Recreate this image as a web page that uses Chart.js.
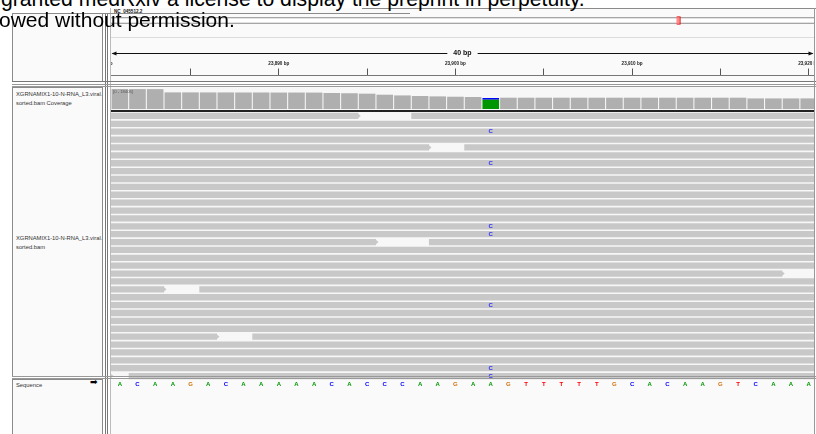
<!DOCTYPE html>
<html>
<head>
<meta charset="utf-8">
<script src="https://cdn.jsdelivr.net/npm/chart.js@4.4.1/dist/chart.umd.min.js"></script>
<style>
  html, body { margin: 0; padding: 0; background: #fff; }
  body { width: 816px; height: 434px; overflow: hidden; position: relative; font-family: "Liberation Sans", Arial, sans-serif; }
  .ln { position: absolute; }
  .namebox { position: absolute; left: 12px; width: 89px; background: #fafafa; border: 1px solid #8a8a8a; overflow: hidden; }
  .nm { position: absolute; left: 3px; font-size: 5.8px; color: #333; white-space: nowrap; line-height: 7px; }
  #data { position: absolute; left: 111px; top: 0; width: 703px; height: 434px; overflow: hidden; }
  #data canvas, #data div { position: absolute; }
  .wm { position: absolute; font-size: 21px; line-height: 21px; color: #000; white-space: nowrap; }
</style>
</head>
<body>
<!-- name panels -->
<div class="namebox" style="top:13px;height:67px;"></div>
<div class="namebox" style="top:87px;height:288px;">
  <div class="nm" style="top:3px;">XGRNAMIX1-10-N-RNA_L3.viral.0</div>
  <div class="nm" style="top:12px;">sorted.bam Coverage</div>
  <div class="nm" style="top:147px;">XGRNAMIX1-10-N-RNA_L3.viral.0</div>
  <div class="nm" style="top:156px;">sorted.bam</div>
</div>
<div class="namebox" style="top:379px;height:70px;">
  <div class="nm" style="top:2px;">Sequence</div>
  <div class="nm" style="top:-1px;left:77px;font-size:9px;font-family:'DejaVu Sans';color:#000;">➡</div>
</div>

<!-- splitter between names and data -->
<div class="ln" style="left:105px;top:13px;width:1px;height:430px;background:#777;"></div>
<div class="ln" style="left:107px;top:13px;width:1px;height:430px;background:#777;"></div>
<div class="ln" style="left:110px;top:8px;width:1px;height:430px;background:#bbb;"></div>

<!-- data side -->
<div id="data">
  <div style="left:0;top:8px;width:703px;height:73px;background:#fafafa;"></div>
  <div style="left:0;top:37px;width:703px;height:1px;background:#dcdcdc;"></div>
  <div style="left:0;top:87px;width:703px;height:289px;background:#f7f7f7;"></div>
  <div style="left:0;top:379px;width:703px;height:60px;background:#fafafa;"></div>
  <canvas id="ideogram" width="708" height="13" style="left:0;top:14px;"></canvas>
  <canvas id="ruler" width="800" height="80" style="left:-53px;top:38px;"></canvas>
  <canvas id="coverage" width="703" height="20" style="left:0;top:89px;"></canvas>
  <div style="left:0;top:110px;width:703px;height:2px;background:#222;"></div>
  <canvas id="reads" width="703" height="268" style="left:0;top:112px;"></canvas>
  <canvas id="sequence" width="703" height="10" style="left:0;top:379px;"></canvas>
  <div id="chrom" style="left:3px;top:9px;font-size:4.6px;font-weight:bold;color:#111;"></div>
  <div id="range" style="left:2px;top:89px;font-size:4.2px;color:#555;"></div>
</div>

<!-- frame lines -->
<div class="ln" style="left:362px;top:8px;width:454px;height:1px;background:#8a8a8a;"></div>
<div class="ln" style="left:12px;top:13px;width:398px;height:1px;background:#8a8a8a;"></div>
<div class="ln" style="left:12px;top:81px;width:804px;height:1px;background:#777;"></div>
<div class="ln" style="left:12px;top:84px;width:804px;height:1px;background:#999;"></div>
<div class="ln" style="left:12px;top:86px;width:804px;height:1px;background:#999;"></div>
<div class="ln" style="left:12px;top:376px;width:804px;height:1px;background:#999;"></div>
<div class="ln" style="left:12px;top:378px;width:804px;height:1px;background:#999;"></div>
<div class="ln" style="left:814px;top:8px;width:1px;height:430px;background:#999;"></div>

<!-- preprint notice overlaying the figure -->
<div class="wm" style="left:1px;top:-12px;font-size:21.2px;">granted medRxiv a license to display the preprint in perpetuity.</div>
<div class="wm" style="left:-1px;top:9px;">owed without permission.</div>

<script>
// genome / view
const chromName = "NC_045512.2";
const genomeLength = 29903;
const viewStart = 23880.5;
const viewEnd = 23920.3;
const firstBase = 23881;

// reference sequence shown in the Sequence track
const refBases = ["A","C","A","A","G","A","C","A","A","A","A","A","C","A","C","C","C","A","A","G",
                  "A","A","G","T","T","T","T","T","G","C","A","C","A","A","G","T","C","A","A","A"];

const covMax = 18405;
const coverage = [18405, 18350, 18300, 15300, 15300, 15250, 15250, 15200, 15200, 15150,
                  15150, 15100, 14700, 14500, 14100, 13150, 12500, 11950, 11600, 11300,
                  11050, 10100, 10400, 10400, 10400, 10400, 10400, 10400, 10400, 10400,
                  10400, 10400, 10400, 10400, 10400, 10400, 9750, 9750, 9750, 9750];

// mismatch column: ref A, alt C
const mismatchPos = 23902;
const alleleA = 8550;
const alleleC = 1550;
const mismatchRows = [2, 6, 14, 15, 24, 32, 33];

// reads: first/last base, two lanes per row (null = no read)
const read1Start = [23796, 23812, 23779, 23860, 23801, 23835, 23790, 23848, 23822, 23857,
                    23806, 23869, 23818, 23841, 23797, 23853, 23778, 23864, 23829, 23810,
                    23770, 23845, 23785, 23872, 23808, 23826, 23866, 23815, 23738, 23851,
                    23793, 23877, 23833, 23882];
const read1End   = [23894, 23936, 23928, 23959, 23898, 23934, 23939, 23947, 23971, 23956,
                    23925, 23968, 23967, 23940, 23946, 23952, 23895, 23963, 23978, 23959,
                    23918, 23944, 23883, 23971, 23957, 23925, 23965, 23964, 23886, 23950,
                    23942, 23976, 23932, 23981];
const read2Start = [23898, null, null, null, 23901, null, null, null, null, null,
                    null, null, null, null, null, null, 23899, null, null, null,
                    null, null, 23886, null, null, null, null, null, 23889, null,
                    null, null, null, null];
const read2End   = [24003, null, null, null, 24012, null, null, null, null, null,
                    null, null, null, null, null, null, 24048, null, null, null,
                    null, null, 24035, null, null, null, null, null, 23988, null,
                    null, null, null, null];
const rowLabels = read1Start.map((_, i) => "row " + i);

const baseColors = { A: "#009600", C: "#0000ff", G: "#d17105", T: "#ff0000" };
const readColor = "#c8c8c8";

const viewPx = 703;
const pxPerBp = viewPx / (viewEnd - viewStart);

document.getElementById("chrom").textContent = chromName;
document.getElementById("range").textContent = "[0 - " + covMax + "]";

Chart.defaults.font.family = '"Liberation Sans", Arial, sans-serif';

function baseOptions(xMin, xMax) {
  return {
    responsive: false,
    animation: false,
    events: [],
    layout: { padding: 0 },
    plugins: { legend: { display: false }, tooltip: { enabled: false } },
    scales: {
      x: { type: "linear", min: xMin, max: xMax, display: false, offset: false },
      y: { display: false },
    },
  };
}

// draws text items at data positions through the chart's scales
function letterPlugin(items, font) {
  return {
    id: "letters",
    afterDatasetsDraw(chart) {
      const ctx = chart.ctx;
      const xs = chart.scales.x;
      const ys = chart.scales.y;
      ctx.save();
      ctx.font = font;
      ctx.textAlign = "center";
      ctx.textBaseline = "middle";
      items.forEach((it) => {
        ctx.fillStyle = it.color;
        ctx.fillText(it.text, xs.getPixelForValue(it.x), ys.getPixelForValue(it.y));
      });
      ctx.restore();
    },
  };
}

// forward-strand arrow tip at the right end of each read bar
const strandPlugin = {
  id: "strand",
  beforeDatasetsDraw(chart) {
    const ctx = chart.ctx;
    ctx.save();
    ctx.fillStyle = readColor;
    chart.data.datasets.forEach((ds, di) => {
      chart.getDatasetMeta(di).data.forEach((bar) => {
        if (!bar || isNaN(bar.x) || bar.x > chart.chartArea.right - 2) return;
        const h = bar.height / 2;
        ctx.beginPath();
        ctx.moveTo(bar.x - 1, bar.y - h);
        ctx.lineTo(bar.x + 2.5, bar.y);
        ctx.lineTo(bar.x - 1, bar.y + h);
        ctx.closePath();
        ctx.fill();
      });
    });
    ctx.restore();
  },
};

// ideogram
const ideoOpts = baseOptions(0, genomeLength);
ideoOpts.indexAxis = "y";
ideoOpts.scales.y = { type: "category", display: false };
new Chart(document.getElementById("ideogram"), {
  type: "bar",
  data: {
    labels: [chromName],
    datasets: [
      { data: [[firstBase, firstBase + refBases.length - 1]], backgroundColor: "#ff8a8a", borderColor: "#e00000",
        borderWidth: 1, barThickness: 8, minBarLength: 4, grouped: false },
      { data: [[1, genomeLength]], backgroundColor: "#ffffff", borderColor: "#666",
        borderWidth: 1, barThickness: 6, grouped: false },
    ],
  },
  options: ideoOpts,
});

// ruler
const rulerMin = viewStart - 53 / pxPerBp;
const rulerMax = rulerMin + 800 / pxPerBp;
const rulerOpts = baseOptions(rulerMin, rulerMax);
rulerOpts.layout.padding = { top: 21, bottom: 0 };
rulerOpts.scales.x = {
  type: "linear",
  position: "top",
  min: rulerMin,
  max: rulerMax,
  grid: { drawOnChartArea: false, drawTicks: true, tickLength: 7, color: "#555" },
  border: { display: true, color: "#777" },
  ticks: {
    stepSize: 5,
    includeBounds: false,
    autoSkip: false,
    maxRotation: 0,
    padding: 2,
    color: "#222",
    font: { size: 4.6, weight: "bold" },
    callback: (v) => (v % 10 === 0 ? v.toLocaleString("en-US") + " bp" : ""),
  },
};
const spanPlugin = {
  id: "span",
  afterDraw(chart) {
    const ctx = chart.ctx;
    const xs = chart.scales.x;
    const x0 = xs.getPixelForValue(viewStart) + 1.5;
    const x1 = xs.getPixelForValue(viewEnd) - 1.5;
    const y = Math.round(chart.chartArea.top - 23) + 0.5;
    const label = Math.round(viewEnd - viewStart) + " bp";
    ctx.save();
    ctx.font = 'bold 7px "Liberation Sans", Arial';
    const tw = ctx.measureText(label).width;
    const cx = (x0 + x1) / 2;
    ctx.strokeStyle = "#111";
    ctx.fillStyle = "#111";
    ctx.lineWidth = 1;
    ctx.beginPath();
    ctx.moveTo(x0, y); ctx.lineTo(cx - tw / 2 - 6, y);
    ctx.moveTo(cx + tw / 2 + 6, y); ctx.lineTo(x1, y);
    ctx.stroke();
    ctx.beginPath();
    ctx.moveTo(x0 - 1, y); ctx.lineTo(x0 + 4, y - 2); ctx.lineTo(x0 + 4, y + 2); ctx.closePath();
    ctx.moveTo(x1 + 1, y); ctx.lineTo(x1 - 4, y - 2); ctx.lineTo(x1 - 4, y + 2); ctx.closePath();
    ctx.fill();
    ctx.textAlign = "center";
    ctx.textBaseline = "middle";
    ctx.fillText(label, cx, y);
    ctx.restore();
  },
};
new Chart(document.getElementById("ruler"), {
  type: "scatter",
  data: { datasets: [{ data: [] }] },
  options: rulerOpts,
  plugins: [spanPlugin],
});

// coverage
const covOpts = baseOptions(viewStart, viewEnd);
covOpts.scales.x.stacked = true;
covOpts.scales.x.grid = { offset: false };
covOpts.scales.y = { display: false, min: 0, max: covMax, stacked: true };
covOpts.datasets = { bar: { barPercentage: 0.94, categoryPercentage: 1 } };
new Chart(document.getElementById("coverage"), {
  type: "bar",
  data: {
    datasets: [
      { data: [{ x: mismatchPos, y: alleleA }], backgroundColor: "#009600" },
      { data: [{ x: mismatchPos, y: alleleC }], backgroundColor: "#0000ff" },
      {
        data: coverage.map((c, i) => ({ x: firstBase + i, y: firstBase + i === mismatchPos ? null : c })),
        backgroundColor: "#afafaf",
      },
    ],
  },
  options: covOpts,
});

// alignments
const readOpts = baseOptions(viewStart, viewEnd);
readOpts.indexAxis = "y";
readOpts.scales.y = { type: "category", display: false };
readOpts.datasets = { bar: { barPercentage: 0.8, categoryPercentage: 1, grouped: false } };
const mismatchItems = mismatchRows.map((r) => ({ x: mismatchPos, y: r, text: "C", color: "#2a2aff" }));
new Chart(document.getElementById("reads"), {
  type: "bar",
  data: {
    labels: rowLabels,
    datasets: [
      { data: read1Start.map((s, i) => (s === null ? null : [s - 0.5, read1End[i] + 0.5])), backgroundColor: readColor },
      { data: read2Start.map((s, i) => (s === null ? null : [s - 0.5, read2End[i] + 0.5])), backgroundColor: readColor },
    ],
  },
  options: readOpts,
  plugins: [strandPlugin, letterPlugin(mismatchItems, 'bold 6px "Liberation Sans", Arial')],
});

// sequence
const seqOpts = baseOptions(viewStart, viewEnd);
seqOpts.scales.y = { display: false, min: -1, max: 1 };
const seqItems = refBases.map((b, i) => ({ x: firstBase + i, y: 0, text: b, color: baseColors[b] }));
new Chart(document.getElementById("sequence"), {
  type: "scatter",
  data: { datasets: [{ data: refBases.map((b, i) => ({ x: firstBase + i, y: 0 })), pointRadius: 0 }] },
  options: seqOpts,
  plugins: [letterPlugin(seqItems, 'bold 6px "Liberation Sans", Arial')],
});
</script>
</body>
</html>
